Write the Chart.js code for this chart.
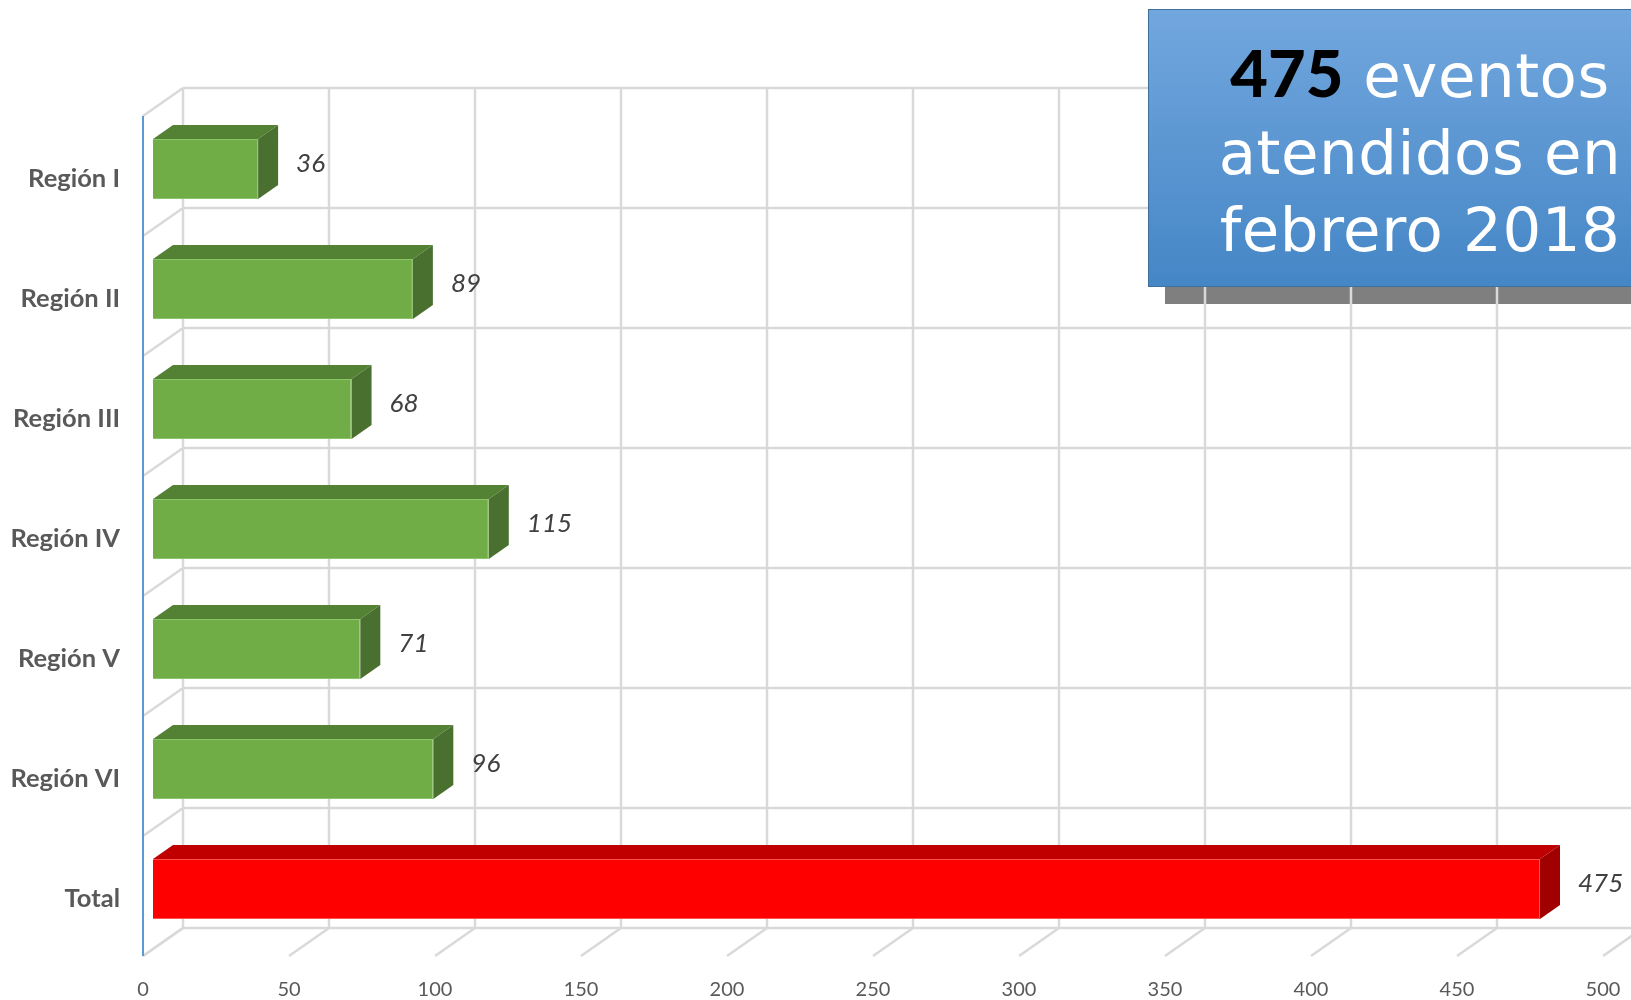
<!DOCTYPE html>
<html lang="es">
<head>
<meta charset="utf-8">
<title>Eventos atendidos - febrero 2018</title>
<script src="https://cdn.jsdelivr.net/npm/chart.js@4.4.1/dist/chart.umd.min.js"></script>
<style>
    html, body { margin: 0; padding: 0; background: #fff; overflow: hidden; }
    #wrap { position: relative; width: 1631px; height: 1000px; overflow: hidden; }
    #chart { position: absolute; left: 0; top: 0; z-index: 1; }
    #shadow { position: absolute; left: 1165px; top: 26px; width: 560px; height: 278px; background: #7f7f7f; z-index: 0; }
    #box {
        position: absolute; left: 1148px; top: 9px; width: 544px; height: 278px; z-index: 2;
        box-sizing: border-box; border: 1.5px solid #3f6f9c;
        background: linear-gradient(#72a7de, #4586c6);
        color: #fff; text-align: center;
        font-family: 'DejaVu Sans', sans-serif; font-size: 61px; line-height: 77px;
        letter-spacing: 0.5px;
        padding-top: 24px;
    }
    #box b { font-family: Lato, sans-serif; font-weight: 900; color: #000; font-size: 65px; letter-spacing: 0; }
</style>
</head>
<body>
<div id="wrap">
    <div id="shadow"></div>
    <canvas id="chart" width="1631" height="1000"></canvas>
    <div id="box"><b>475</b> eventos<br>atendidos en<br>febrero 2018</div>
</div>
<script>
// data
const categories = ['Región I', 'Región II', 'Región III', 'Región IV', 'Región V', 'Región VI', 'Total'];
const eventos = [36, 89, 68, 115, 71, 96, 475];
const xTickValues = [0, 50, 100, 150, 200, 250, 300, 350, 400, 450, 500];

// 3d look: depth of the whole box and of the bars
const DX = 40, DY = -28;      // front plane -> back wall
const BAR_FRONT = 0.25;       // bars start a quarter of the way in
const BAR_DEPTH = 0.5;
const GRID = '#d9d9d9';

const green = { front: '#70ad47', top: '#548235', side: '#4a7030', edge: '#8cc46a' };
const red = { front: '#ff0000', top: '#c00000', side: '#a00000', edge: '#ff5050' };
const colorsFor = label => label === 'Total' ? red : green;

function line(ctx, x1, y1, x2, y2) {
    ctx.beginPath();
    ctx.moveTo(x1, y1);
    ctx.lineTo(x2, y2);
    ctx.stroke();
}

function poly(ctx, pts, fill) {
    ctx.beginPath();
    ctx.moveTo(pts[0][0], pts[0][1]);
    pts.slice(1).forEach(p => ctx.lineTo(p[0], p[1]));
    ctx.closePath();
    ctx.fillStyle = fill;
    ctx.fill();
}

const depthPlugin = {
    id: 'depth3d',
    beforeDatasetsDraw(chart) {
        const { ctx, chartArea: a, scales: { x, y } } = chart;
        const bx = DX * (1 - BAR_FRONT), by = DY * (1 - BAR_FRONT);   // bar plane -> back wall
        const fx = -DX * BAR_FRONT, fy = -DY * BAR_FRONT;               // bar plane -> front plane
        const step = y.getPixelForValue(1) - y.getPixelForValue(0);
        const bounds = [];
        for (let i = 0; i <= categories.length; i++) bounds.push(y.getPixelForValue(0) - step / 2 + i * step);
        const x0 = x.getPixelForValue(0);

        ctx.save();
        ctx.strokeStyle = GRID;
        ctx.lineWidth = 2.5;
        // back wall verticals
        xTickValues.forEach(v => {
            const px = x.getPixelForValue(v) + bx;
            line(ctx, px, bounds[0] + by, px, bounds[bounds.length - 1] + by);
        });
        // back wall horizontals + left wall diagonals
        bounds.forEach(b => {
            line(ctx, x0 + bx, b + by, chart.width + 40, b + by);
            line(ctx, x0 + fx, b + fy, x0 + bx, b + by);
        });
        // floor diagonals
        xTickValues.forEach(v => {
            const px = x.getPixelForValue(v);
            line(ctx, px + fx, a.bottom + fy, px + bx, a.bottom + by);
        });
        // value axis line
        ctx.strokeStyle = '#5b9bd5';
        ctx.lineWidth = 2;
        line(ctx, x0 + fx, bounds[0] + fy, x0 + fx, a.bottom + fy);
        ctx.restore();
    },
    afterDatasetsDraw(chart) {
        const { ctx } = chart;
        const ox = DX * BAR_DEPTH, oy = DY * BAR_DEPTH;
        const meta = chart.getDatasetMeta(0);
        ctx.save();
        meta.data.forEach((bar, i) => {
            const c = colorsFor(categories[i]);
            const top = bar.y - bar.height / 2, bottom = bar.y + bar.height / 2;
            poly(ctx, [[bar.base, top], [bar.x, top], [bar.x + ox, top + oy], [bar.base + ox, top + oy]], c.top);
            poly(ctx, [[bar.x, top], [bar.x + ox, top + oy], [bar.x + ox, bottom + oy], [bar.x, bottom]], c.side);

            ctx.fillStyle = '#404040';
            ctx.font = 'italic 26px Lato';
            ctx.textAlign = 'left';
            ctx.textBaseline = 'middle';
            ctx.fillText(String(eventos[i]), bar.x + ox + 18, bar.y + oy / 2 + 2);
        });
        ctx.restore();
    }
};

Chart.defaults.font.family = 'Lato';

new Chart(document.getElementById('chart'), {
    type: 'bar',
    data: {
        labels: categories,
        datasets: [{
            data: eventos,
            backgroundColor: categories.map(l => colorsFor(l).front),
            borderColor: categories.map(l => colorsFor(l).edge),
            borderWidth: 1,
            barPercentage: 0.5,
            categoryPercentage: 1.0
        }]
    },
    options: {
        indexAxis: 'y',
        responsive: false,
        animation: false,
        layout: { padding: { top: 109, right: 18, left: 0, bottom: 0 } },
        plugins: { legend: { display: false }, tooltip: { enabled: false } },
        scales: {
            x: {
                min: 0, max: 500,
                afterBuildTicks: s => { s.ticks = xTickValues.map(v => ({ value: v })); },
                ticks: { color: '#595959', font: { size: 20 }, padding: 21, labelOffset: -DX * BAR_FRONT },
                grid: { display: false },
                border: { display: false },
                afterFit: s => { s.height = 51; s.paddingLeft = 0; s.paddingRight = 0; }
            },
            y: {
                ticks: { color: '#595959', font: { size: 25.5, weight: 'bold' }, padding: 25, labelOffset: 10 },
                grid: { display: false },
                border: { display: false },
                afterFit: s => { s.width = 153; s.paddingTop = 0; s.paddingBottom = 0; }
            }
        }
    },
    plugins: [depthPlugin]
});
</script>
</body>
</html>
